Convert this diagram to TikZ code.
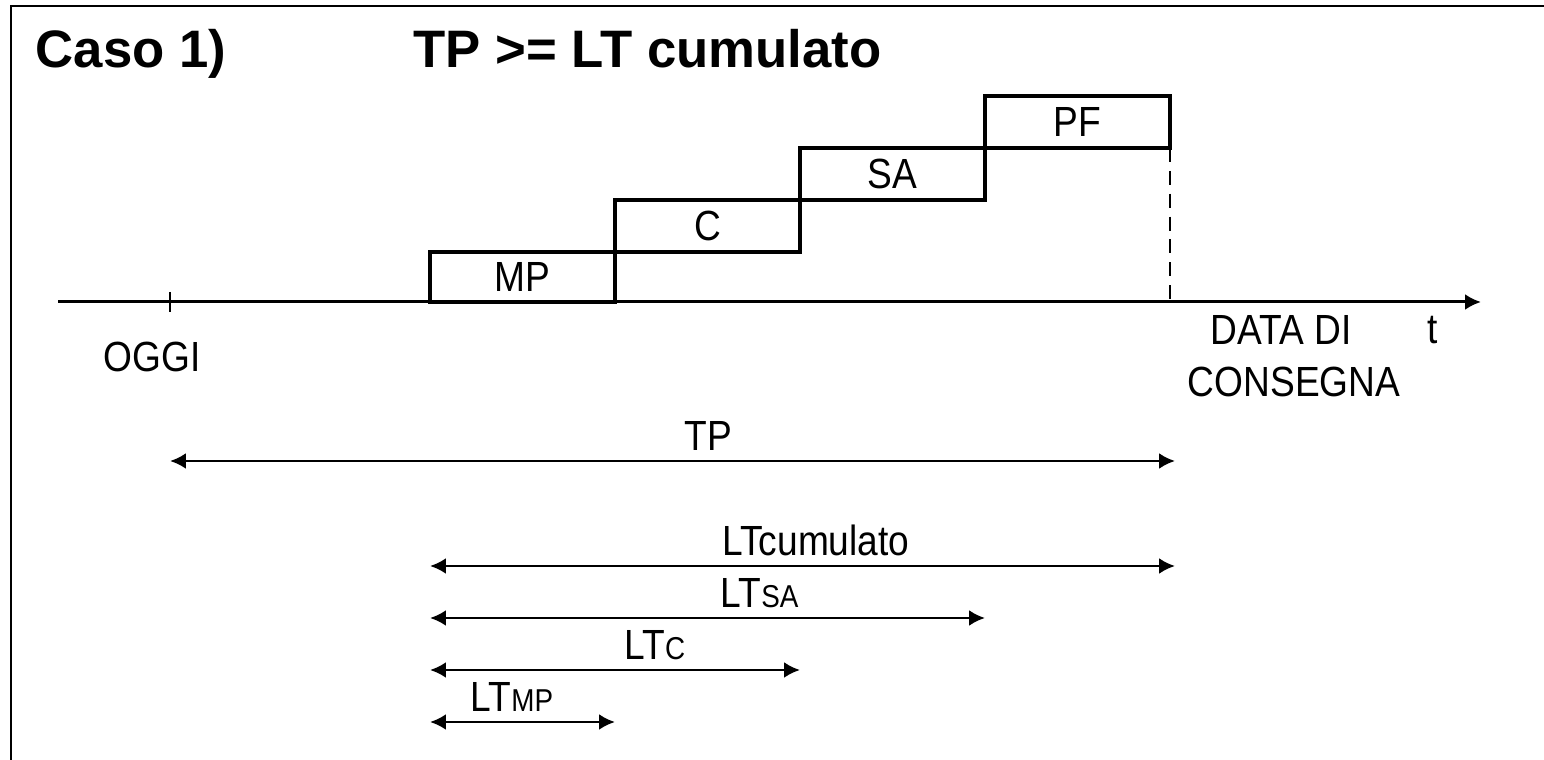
\documentclass[tikz,border=0pt]{standalone}
\usepackage{fontspec}
\setmainfont{Liberation Sans}
\newfontfamily\stretta[FakeStretch=0.88]{Liberation Sans}
\usetikzlibrary{positioning,arrows.meta}
\newcommand{\piccolo}[1]{{\fontsize{9}{10}\selectfont #1}}
\begin{document}
\begin{tikzpicture}[>={Latex[length=4.5pt,width=4.5pt]},
  fase/.style={draw, line width=1.2pt, minimum width=1.85cm, minimum height=0.52cm,
    inner sep=0pt, outer sep=0pt, font=\stretta\fontsize{12}{14}\selectfont},
  etich/.style={font=\stretta\fontsize{12}{14}\selectfont, inner sep=0pt},
  titolo/.style={font=\fontsize{15}{18}\selectfont\bfseries, inner sep=0pt, anchor=base west},
  misura/.style={<->, line width=0.8pt}]
\useasboundingbox (0,0) rectangle (15.44,-7.60);
% cornice
\draw[line width=0.6pt] (0.11,-7.60) -- (0.11,-0.06) -- (15.44,-0.06);
% titolo
\node[titolo] (caso) at (0.35,-0.68) {Caso 1)};
\node[titolo] (cond) at (4.13,-0.68) {TP >= LT cumulato};
% asse dei tempi
\coordinate (inizio) at (0.58,-3.02);
\coordinate (fine) at (14.81,-3.02);
\coordinate (oggi) at (1.70,-3.02);
\draw[->, line width=0.85pt] (inizio) -- (fine);
\draw[line width=0.8pt] ([yshift=0.1cm]oggi) -- ([yshift=-0.1cm]oggi);
\node[etich] (lbloggi) at (1.52,-3.57) {OGGI};
\node[etich] (lbldata) at (12.81,-3.30) {DATA DI};
\node[etich] (lblt) at (14.33,-3.30) {t};
\node[etich] (lblcons) at (12.94,-3.82) {CONSEGNA};
% fasi
\node[fase, anchor=south west, minimum height=0.5cm] (mp) at (4.30,-3.02) {MP};
\node[fase, above right=0pt of mp.north east, anchor=south west] (c) {C};
\node[fase, above right=0pt of c.north east, anchor=south west] (sa) {SA};
\node[fase, above right=0pt of sa.north east, anchor=south west] (pf) {PF};
\coordinate (consegna) at (pf.south east |- inizio);
\draw[dash pattern=on 4pt off 2.5pt, line width=0.75pt] (pf.south east) -- ([yshift=-0.05cm]consegna);
% righe delle misure
\coordinate (rtp) at (0,-4.61);
\coordinate (rcum) at (0,-5.66);
\coordinate (rsa) at (0,-6.18);
\coordinate (rc) at (0,-6.70);
\coordinate (rmp) at (0,-7.22);
\draw[misura] (oggi |- rtp) -- node[etich, pos=0.536, above=2.5pt] (lbltp) {TP} ([xshift=0.05cm]consegna |- rtp);
\draw[misura] (mp.south west |- rcum) -- node[etich, pos=0.518, above=2.5pt] (lblcum) {LTcumulato} ([xshift=0.05cm]consegna |- rcum);
\draw[misura] (mp.south west |- rsa) -- node[etich, pos=0.594, above=2.5pt] (lblsa) {LT\piccolo{SA}} (sa.south east |- rsa);
\draw[misura] (mp.south west |- rc) -- node[etich, pos=0.608, above=2.5pt] (lblc) {LT\piccolo{C}} (c.south east |- rc);
\draw[misura] (mp.south west |- rmp) -- node[etich, pos=0.443, above=2.5pt] (lblmp) {LT\piccolo{MP}} (mp.south east |- rmp);
\end{tikzpicture}
\end{document}
